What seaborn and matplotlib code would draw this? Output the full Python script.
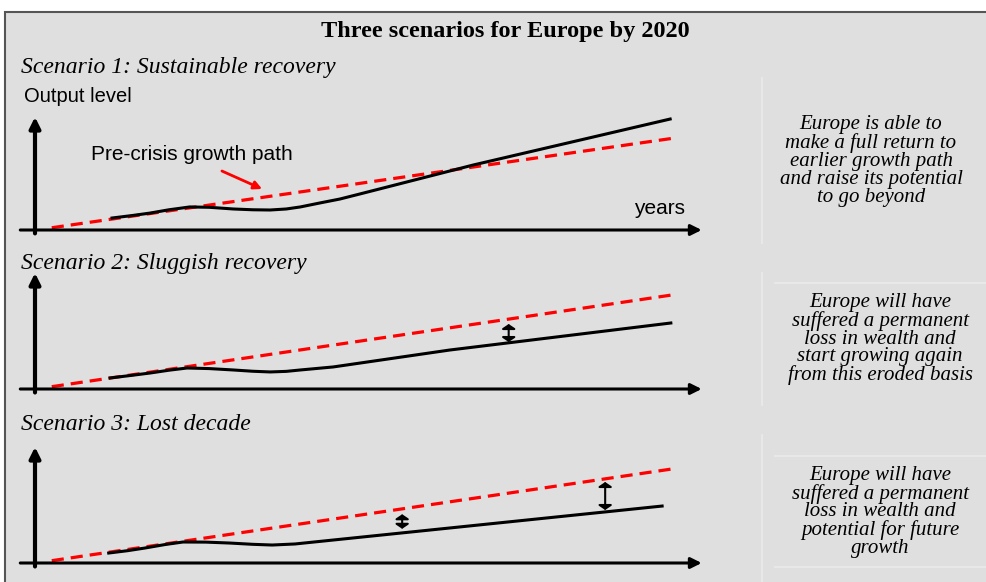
import numpy as np
import pandas as pd
import seaborn as sns
import matplotlib.pyplot as plt
from matplotlib.patches import Rectangle

# ---- data: x = years since start of the crisis period, y = output level index ----
precrisis_x = [0.25, 9.5]
precrisis_y = [2.0, 81.0]

# scenario 1: sustainable recovery (overtakes the pre-crisis path)
s1_x = [1.15, 1.45, 1.72, 2.0, 2.31, 2.6, 2.96, 3.25, 3.51, 3.75, 3.96, 4.25, 4.55, 4.85, 6.54, 9.48]
s1_y = [10.6, 12.8, 15.0, 17.9, 20.4, 20.1, 18.6, 17.9, 17.7, 18.6, 20.4, 23.9, 27.4, 31.9, 57.5, 98.2]

# scenario 2: sluggish recovery (same slope, lower level)
s2_x = [1.12, 1.42, 1.72, 2.0, 2.27, 2.6, 2.96, 3.25, 3.51, 3.75, 3.96, 4.45, 6.19, 9.49]
s2_y = [9.5, 11.6, 13.8, 16.2, 18.1, 17.6, 16.4, 15.3, 14.7, 15.2, 16.4, 19.0, 33.6, 56.9]

# scenario 3: lost decade (lower slope)
s3_x = [1.10, 1.38, 1.64, 1.95, 2.21, 2.55, 2.91, 3.25, 3.54, 3.88, 9.36]
s3_y = [8.6, 10.6, 12.9, 16.0, 18.1, 18.0, 17.2, 16.1, 15.5, 16.4, 49.1]

# gap markers (x, top, bottom)
s2_gaps = [(7.07, 56.0, 40.5)]
s3_gaps = [(5.48, 42.0, 29.5), (8.51, 69.8, 45.7)]

scenario_titles = ["Scenario 1: Sustainable recovery",
                   "Scenario 2: Sluggish recovery",
                   "Scenario 3: Lost decade"]
scenario_notes = [
    "Europe is able to\nmake a full return to\nearlier growth path\nand raise its potential\nto go beyond",
    "Europe will have\nsuffered a permanent\nloss in wealth and\nstart growing again\nfrom this eroded basis",
    "Europe will have\nsuffered a permanent\nloss in wealth and\npotential for future\ngrowth",
]

W, H = 987, 582
BG = "#dfdfdf"
SERIF = ["Liberation Serif", "DejaVu Serif"]
SANS = ["Liberation Sans", "DejaVu Sans"]

fig = plt.figure(figsize=(W / 100, H / 100), dpi=100)
fig.patch.set_facecolor("white")

# background layer in pixel coordinates
bg = fig.add_axes([0, 0, 1, 1])
bg.set_xlim(0, W)
bg.set_ylim(H, 0)
bg.axis("off")
bg.add_patch(Rectangle((5, 12), W, H, facecolor=BG, edgecolor="#555555", lw=1.5))

bg.text(505, 31, "Three scenarios for Europe by 2020", family=SERIF, weight="bold",
        fontsize=17.5, ha="center", va="center")

# faint separators of the note column
for y0, y1 in [(78, 243), (273, 405), (435, 582)]:
    bg.plot([762, 762], [y0, y1], color="#ebebeb", lw=1.2)
for y in [283, 456, 567]:
    bg.plot([775, W], [y, y], color="#ebebeb", lw=1.2)

title_y = [68, 263, 424]
note_pos = [(871, 161), (880, 339), (880, 512)]
for t, ty, note, (nx, ny) in zip(scenario_titles, title_y, scenario_notes, note_pos):
    bg.text(21, ty, t, family=SERIF, style="italic", fontsize=17, ha="left", va="center")
    bg.text(nx, ny, note, family=SERIF, style="italic", fontsize=15, ha="center",
            va="center", linespacing=0.92)

bg.text(24, 96, "Output level", family=SANS, fontsize=14.5, ha="left", va="center")
bg.text(91, 155, "Pre-crisis growth path", family=SANS, fontsize=15, ha="left", va="center")
bg.text(634, 209, "years", family=SANS, fontsize=15, ha="left", va="center")

# panels: (axis line pixel y, panel height px)
panels = [(230, 113), (389, 116), (563, 116)]
series = [(s1_x, s1_y), (s2_x, s2_y), (s3_x, s3_y)]
gaps = [[], s2_gaps, s3_gaps]

for (base, hgt), (sx, sy), gp in zip(panels, series, gaps):
    ax = fig.add_axes([35 / W, 1 - base / H, 670 / W, hgt / H])
    ax.set_facecolor("none")
    ax.set_xlim(0, 10)
    ax.set_ylim(0, 100)

    sns.lineplot(x=precrisis_x, y=precrisis_y, ax=ax, color="#ff0000", lw=2.3,
                 linestyle=(0, (3.8, 2.2)))
    sns.lineplot(x=sx, y=sy, ax=ax, color="black", lw=2.2)

    for gx, top, bot in gp:
        ax.annotate("", xy=(gx, bot), xytext=(gx, top),
                    arrowprops=dict(arrowstyle="<|-|>,head_length=0.3,head_width=0.45",
                                    color="black", lw=1.5,
                                    mutation_scale=9, shrinkA=0, shrinkB=0))

    # axis arrows
    ax.annotate("", xy=(0, 1.0), xytext=(0, -0.03), xycoords="axes fraction",
                arrowprops=dict(arrowstyle="-|>", color="black", lw=3,
                                mutation_scale=16, shrinkA=0, shrinkB=0))
    ax.annotate("", xy=(0.995, 0), xytext=(-0.022, 0), xycoords="axes fraction",
                arrowprops=dict(arrowstyle="-|>", color="black", lw=2.2,
                                mutation_scale=16, shrinkA=0, shrinkB=0))
    ax.axis("off")
    if ax.get_legend():
        ax.get_legend().remove()

    if base == 230:
        # red pointer to the pre-crisis path
        ax.annotate("", xy=(3.39, 36.3), xytext=(2.79, 52.2),
                    arrowprops=dict(arrowstyle="-|>", color="#ff0000", lw=2,
                                    mutation_scale=12, shrinkA=0, shrinkB=0))

fig.savefig("out.png", dpi=100, facecolor=fig.get_facecolor())
